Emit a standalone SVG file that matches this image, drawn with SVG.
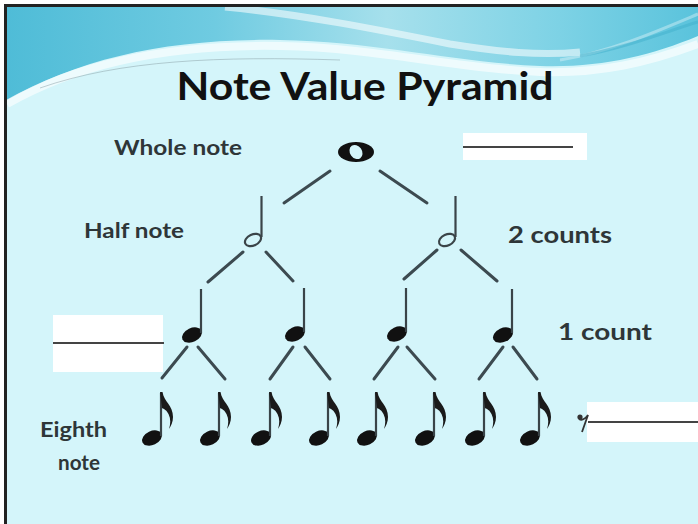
<svg xmlns="http://www.w3.org/2000/svg" width="698" height="524" viewBox="0 0 698 524">
<defs>
<linearGradient id="band" x1="0" y1="0" x2="1" y2="0">
<stop offset="0" stop-color="#4fbcd7"/>
<stop offset="0.3" stop-color="#6fcbe1"/>
<stop offset="0.55" stop-color="#a6e0ec"/>
<stop offset="0.8" stop-color="#7dd2e5"/>
<stop offset="1" stop-color="#5ac3dc"/>
</linearGradient>
<g id="eighth">
<ellipse cx="0" cy="0" rx="10.5" ry="7" transform="rotate(-25)" fill="#111"/>
<line x1="9" y1="-2" x2="9" y2="-45" stroke="#3a4448" stroke-width="2.2"/>
<path d="M8,-46 L10.5,-46 C12,-36 21,-33 21,-21 C21,-16 19,-12 17,-9 C18.5,-14 19,-19 16.5,-24 C14.5,-28 12,-29 10,-30 Z" fill="#1a1a1a"/>
</g>
<g id="quarter">
<ellipse cx="0" cy="0" rx="10.5" ry="7" transform="rotate(-25)" fill="#111"/>
<line x1="9" y1="-2" x2="9" y2="-46" stroke="#3a4448" stroke-width="2.2"/>
</g>
<g id="half">
<ellipse cx="0" cy="0" rx="8.5" ry="5.5" transform="rotate(-25)" fill="none" stroke="#3a4448" stroke-width="2.2"/>
<line x1="8.5" y1="-3" x2="8.5" y2="-44" stroke="#3a4448" stroke-width="2.2"/>
</g>
</defs>
<style>
.lbl{font-family:Lato,"Liberation Sans",sans-serif;font-weight:bold;fill:#2e3638}
.con line{stroke:#3c4a50;stroke-width:3;stroke-linecap:round}
.blank{fill:#ffffff}
.rule{stroke:#444;stroke-width:2}
</style>

<rect x="0" y="0" width="698" height="524" fill="#ffffff"/>
<rect x="7" y="7" width="691" height="517" fill="#d4f5fa"/>
<!-- top wave -->
<path d="M7,7 H698 V36 C650,56 600,68 540,66 C450,62 380,42 280,40 C170,38 80,58 7,100 Z" fill="url(#band)"/>
<path d="M7,104 C80,62 170,44 280,46 C380,48 450,68 540,72 C600,74 650,62 698,44" fill="none" stroke="#ffffff" stroke-opacity="0.6" stroke-width="8"/>
<path d="M40,88 C120,60 220,56 340,60" fill="none" stroke="#8aa0a6" stroke-opacity="0.5" stroke-width="1"/>
<path d="M225,7 C300,14 380,30 450,44 C500,52 540,56 580,52" fill="none" stroke="#ffffff" stroke-opacity="0.55" stroke-width="7"/>
<path d="M560,60 C610,52 660,30 698,14" fill="none" stroke="#ffffff" stroke-opacity="0.35" stroke-width="3"/>
<path d="M580,56 C625,48 665,32 698,22" fill="none" stroke="#3fb0cc" stroke-opacity="0.5" stroke-width="3"/>
<!-- frame -->
<rect x="4" y="4" width="694" height="3" fill="#222"/>
<rect x="4" y="4" width="3" height="520" fill="#222"/>

<text x="365" y="100" text-anchor="middle" font-family="Lato,'Liberation Sans',sans-serif" font-weight="bold" font-size="39" fill="#111" textLength="377" lengthAdjust="spacingAndGlyphs">Note Value Pyramid</text>

<g id="labels">
<text class="lbl" x="114" y="155" font-size="20" textLength="128" lengthAdjust="spacingAndGlyphs">Whole note</text>
<text class="lbl" x="84" y="238" font-size="20" textLength="100" lengthAdjust="spacingAndGlyphs">Half note</text>
<text class="lbl" x="508" y="243" font-size="23" textLength="104" lengthAdjust="spacingAndGlyphs">2 counts</text>
<text class="lbl" x="558" y="340" font-size="23" textLength="94" lengthAdjust="spacingAndGlyphs">1 count</text>
<text class="lbl" x="40" y="437" font-size="20" textLength="67" lengthAdjust="spacingAndGlyphs">Eighth</text>
<text class="lbl" x="58" y="470" font-size="20" textLength="42" lengthAdjust="spacingAndGlyphs">note</text>
</g>

<g id="blanks">
<rect class="blank" x="463" y="133" width="124" height="27"/>
<line class="rule" x1="463" y1="147" x2="573" y2="147"/>
<rect class="blank" x="53" y="315" width="110" height="57"/>
<line class="rule" x1="53" y1="343" x2="164" y2="343"/>
<rect class="blank" x="587" y="402" width="111" height="40"/>
<line class="rule" x1="588" y1="422" x2="698" y2="422"/>
<circle cx="580" cy="417" r="2.6" fill="#333"/>
<path d="M579,419 C582,421 585,419 588,415 L582,432" fill="none" stroke="#333" stroke-width="1.8"/>
</g>

<g id="whole">
<ellipse cx="356" cy="152" rx="18" ry="10" fill="#111"/>
<ellipse cx="356" cy="152" rx="6" ry="7.5" transform="rotate(-35 356 152)" fill="#d4f5fa"/>
</g>

<g id="halves">
<use href="#half" x="253" y="240"/>
<use href="#half" x="447" y="240"/>
</g>

<g id="quarters">
<use href="#quarter" x="192" y="335"/>
<use href="#quarter" x="295" y="334"/>
<use href="#quarter" x="397" y="334"/>
<use href="#quarter" x="503" y="335"/>
</g>

<g id="eighths">
<use href="#eighth" x="152" y="438"/>
<use href="#eighth" x="210" y="438"/>
<use href="#eighth" x="261" y="438"/>
<use href="#eighth" x="319" y="438"/>
<use href="#eighth" x="367" y="438"/>
<use href="#eighth" x="425" y="438"/>
<use href="#eighth" x="475" y="438"/>
<use href="#eighth" x="530" y="438"/>
</g>

<g id="connectors" class="con">
<line x1="330" y1="171" x2="284" y2="203"/>
<line x1="380" y1="171" x2="427" y2="203"/>
<line x1="243" y1="252" x2="208" y2="282"/>
<line x1="266" y1="252" x2="293" y2="281"/>
<line x1="437" y1="250" x2="404" y2="279"/>
<line x1="461" y1="250" x2="497" y2="281"/>
<line x1="187" y1="347" x2="162" y2="378"/>
<line x1="198" y1="347" x2="225" y2="379"/>
<line x1="293" y1="347" x2="270" y2="379"/>
<line x1="305" y1="347" x2="330" y2="379"/>
<line x1="398" y1="347" x2="374" y2="379"/>
<line x1="407" y1="347" x2="435" y2="379"/>
<line x1="503" y1="347" x2="479" y2="379"/>
<line x1="513" y1="347" x2="537" y2="379"/>
</g>
</svg>
